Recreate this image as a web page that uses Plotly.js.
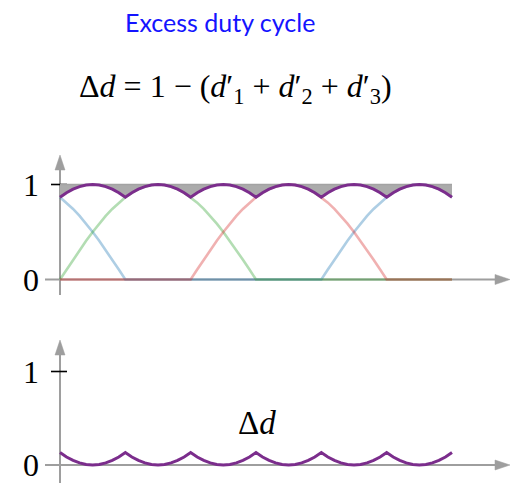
<!DOCTYPE html>
<html>
<head>
<meta charset="utf-8">
<script src="https://cdn.plot.ly/plotly-3.0.1.min.js"></script>
<style>
  html, body { margin: 0; padding: 0; background: #fff; }
  #chart { width: 520px; height: 483px; }
</style>
</head>
<body>
<div id="chart"></div>
<script>
// Electrical angle over one period, in degrees (6° steps)
const angle = [0,6,12,18,24,30,36,42,48,54,60,66,72,78,84,90,96,102,108,114,120,
  126,132,138,144,150,156,162,168,174,180,186,192,198,204,210,216,222,228,234,240,
  246,252,258,264,270,276,282,288,294,300,306,312,318,324,330,336,342,348,354,360];

// Phase duty cycles d'1 (blue), d'2 (green), d'3 (red)
const d1 = [0.866,0.809,0.743,0.669,0.588,0.5,0.407,0.309,0.208,0.105,0,
  0,0,0,0,0,0,0,0,0,0,0,0,0,0,0,0,0,0,0,0,0,0,0,0,0,0,0,0,0,
  0,0.105,0.208,0.309,0.407,0.5,0.588,0.669,0.743,0.809,0.866,0.914,0.951,0.978,0.995,1,0.995,0.978,0.951,0.914,0.866];
const d2 = [0,0.105,0.208,0.309,0.407,0.5,0.588,0.669,0.743,0.809,0.866,0.914,0.951,0.978,0.995,1,
  0.995,0.978,0.951,0.914,0.866,0.809,0.743,0.669,0.588,0.5,0.407,0.309,0.208,0.105,0,
  0,0,0,0,0,0,0,0,0,0,0,0,0,0,0,0,0,0,0,0,0,0,0,0,0,0,0,0,0,0];
const d3 = [0,0,0,0,0,0,0,0,0,0,0,0,0,0,0,0,0,0,0,0,
  0,0.105,0.208,0.309,0.407,0.5,0.588,0.669,0.743,0.809,0.866,0.914,0.951,0.978,0.995,1,
  0.995,0.978,0.951,0.914,0.866,0.809,0.743,0.669,0.588,0.5,0.407,0.309,0.208,0.105,0,
  0,0,0,0,0,0,0,0,0,0];

// Axis tick values and labels
const tickVals = [0, 1];
const tickText = ['0', '1'];

// Total duty d'1 + d'2 + d'3 and the excess Δd = 1 − total
const total = angle.map((_, i) => d1[i] + d2[i] + d3[i]);
const excess = total.map(v => 1 - v);

const W = 520, H = 483;
const X0 = 60, XSCALE = 392 / 360;          // px of angle 0, px per degree
const TOP_Y0 = 279.5, TOP_S = 95;            // upper panel: px of 0, px per unit
const BOT_Y0 = 465, BOT_S = 93.5;            // lower panel
const px2x = p => (p - X0) / XSCALE;
const py2paper = p => 1 - p / H;

const GRAY = '#9e9e9e';
const PURPLE = '#7b2d8c';
const phaseLine = (c) => ({ color: c, width: 2.6 });

const traces = [
  { x: angle, y: d1, mode: 'lines', line: phaseLine('rgba(31,119,180,0.36)'), hoverinfo: 'skip' },
  { x: angle, y: d2, mode: 'lines', line: phaseLine('rgba(44,160,44,0.36)'), hoverinfo: 'skip' },
  { x: angle, y: d3, mode: 'lines', line: phaseLine('rgba(214,39,40,0.36)'), hoverinfo: 'skip' },
  // upper bound d = 1; the gap down to the total is shaded
  { x: [angle[0], angle[angle.length - 1]], y: [1, 1], mode: 'lines',
    line: { color: '#a3a3a3', width: 1.5 }, hoverinfo: 'skip' },
  { x: angle, y: total, mode: 'lines', fill: 'tonexty', fillcolor: '#ababab',
    line: { color: PURPLE, width: 3 }, hoverinfo: 'skip' },
  { x: angle, y: excess, mode: 'lines', yaxis: 'y2',
    line: { color: PURPLE, width: 3 }, hoverinfo: 'skip' }
];

// Axis arrows drawn as lines plus pixel-sized triangle heads
function xArrow(yref) {
  return [
    { type: 'line', layer: 'below', xref: 'paper', yref: yref,
      x0: 45 / W, x1: 498 / W, y0: 0, y1: 0, line: { color: GRAY, width: 2 } },
    { type: 'path', layer: 'below', xref: 'paper', yref: yref,
      xsizemode: 'pixel', ysizemode: 'pixel', xanchor: 510 / W, yanchor: 0,
      path: 'M0,0 L-15,5 L-15,-5 Z', fillcolor: GRAY, line: { color: GRAY, width: 0.5 } }
  ];
}
function yArrow(bottomPx, lineTopPx, tipPx) {
  return [
    { type: 'line', layer: 'below', xref: 'paper', yref: 'paper',
      x0: X0 / W, x1: X0 / W, y0: py2paper(bottomPx), y1: py2paper(lineTopPx),
      line: { color: GRAY, width: 2 } },
    { type: 'path', layer: 'below', xref: 'paper', yref: 'paper',
      xsizemode: 'pixel', ysizemode: 'pixel', xanchor: X0 / W, yanchor: py2paper(tipPx),
      path: 'M0,0 L-5,-15 L5,-15 Z', fillcolor: GRAY, line: { color: GRAY, width: 0.5 } }
  ];
}
function tickMark(yref) {
  return { type: 'line', layer: 'below', xref: 'paper', yref: yref,
    x0: 51 / W, x1: 67 / W, y0: tickVals[1], y1: tickVals[1],
    line: { color: '#000', width: 1.6 } };
}

const shapes = [
  ...xArrow('y'), ...yArrow(295, 168, 155), tickMark('y'),
  ...xArrow('y2'), ...yArrow(483, 353, 340), tickMark('y2')
];

const tickFont = { family: 'Liberation Serif, DejaVu Serif, serif', size: 32, color: '#000' };
const tickLabels = [];
['y', 'y2'].forEach(ref => {
  tickVals.forEach((v, i) => {
    tickLabels.push({ xref: 'paper', yref: ref, x: 31 / W, y: v, text: tickText[i],
      showarrow: false, xanchor: 'center', yanchor: 'middle', font: tickFont });
  });
});

const annotations = [
  { xref: 'paper', yref: 'paper', x: 219.5 / W, y: py2paper(22), text: 'Excess duty cycle',
    showarrow: false, xanchor: 'center', yanchor: 'middle',
    font: { family: 'Lato, Open Sans, sans-serif', size: 25, color: '#1414ff' } },
  { xref: 'paper', yref: 'paper', x: 235 / W, y: py2paper(88),
    text: 'Δ<i>d</i> = 1 − (<i>d</i>′<sub>1</sub> + <i>d</i>′<sub>2</sub> + <i>d</i>′<sub>3</sub>)',
    showarrow: false, xanchor: 'center', yanchor: 'middle',
    font: { family: 'Liberation Serif, DejaVu Serif, serif', size: 32, color: '#000' } },
  { xref: 'paper', yref: 'paper', x: 257 / W, y: py2paper(423), text: 'Δ<i>d</i>',
    showarrow: false, xanchor: 'center', yanchor: 'middle',
    font: { family: 'Liberation Serif, DejaVu Serif, serif', size: 33, color: '#000' } },
  ...tickLabels
];

const layout = {
  width: W, height: H,
  margin: { l: 0, r: 0, t: 0, b: 0, pad: 0 },
  paper_bgcolor: '#fff', plot_bgcolor: '#fff',
  showlegend: false,
  xaxis: { range: [px2x(0), px2x(W)], visible: false, fixedrange: true },
  yaxis: { range: [(TOP_Y0 - H) / TOP_S, TOP_Y0 / TOP_S], visible: false, fixedrange: true },
  yaxis2: { range: [(BOT_Y0 - H) / BOT_S, BOT_Y0 / BOT_S], overlaying: 'y', visible: false, fixedrange: true },
  shapes: shapes,
  annotations: annotations
};

Plotly.newPlot('chart', traces, layout, { displayModeBar: false, staticPlot: true });
</script>
</body>
</html>
